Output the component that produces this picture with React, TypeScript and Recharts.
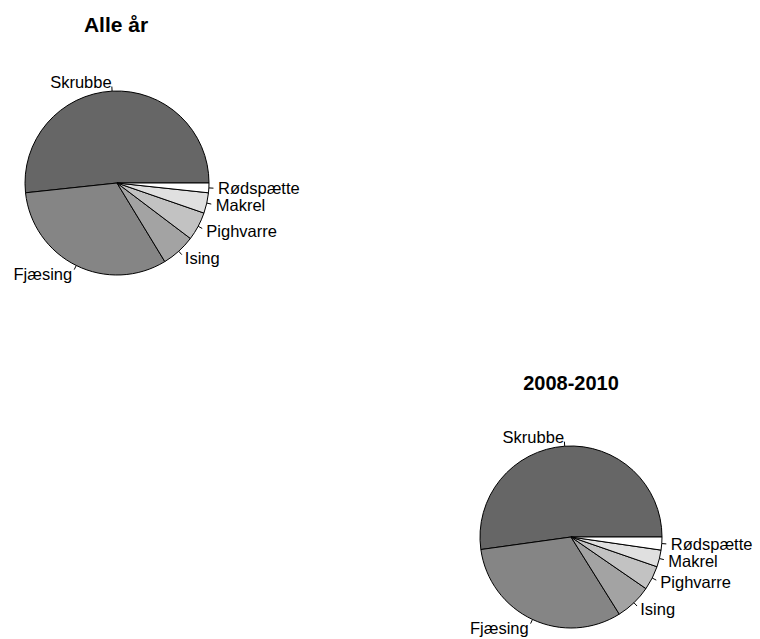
import { Cell, Pie, PieChart } from "recharts";

const species = ["Skrubbe", "Fjæsing", "Ising", "Pighvarre", "Makrel", "Rødspætte"];
const allYears = [51.7, 32.0, 6.0, 5.0, 3.6, 1.7];
const years2008to2010 = [52.2, 31.7, 6.5, 4.3, 3.0, 2.3];
const shades = ["#666666", "#858585", "#a3a3a3", "#c2c2c2", "#e0e0e0", "#ffffff"];
const titles = ["Alle år", "2008-2010"];

const allData = species.map((name, i) => ({ name, value: allYears[i] }));
const recentData = species.map((name, i) => ({ name, value: years2008to2010[i] }));

const RAD = Math.PI / 180;
const font = "'Liberation Sans', Arial, sans-serif";

// R-style pie labels: short tick from r to 1.05r, text at 1.1r
function renderLabel(props: any) {
  const { cx, cy, midAngle, outerRadius, name } = props;
  const c = Math.cos(midAngle * RAD);
  const s = Math.sin(midAngle * RAD);
  const x1 = cx + outerRadius * c;
  const y1 = cy - outerRadius * s;
  const x2 = cx + outerRadius * 1.05 * c;
  const y2 = cy - outerRadius * 1.05 * s;
  const tx = cx + outerRadius * 1.1 * c;
  const ty = cy - outerRadius * 1.1 * s;
  return (
    <g key={name}>
      <line x1={x1} y1={y1} x2={x2} y2={y2} stroke="#000" strokeWidth={1} />
      <text
        x={tx}
        y={ty}
        textAnchor={c > 0 ? "start" : "end"}
        dominantBaseline="central"
        fontFamily={font}
        fontSize={16.5}
        fill="#000"
      >
        {name}
      </text>
    </g>
  );
}

export default function App() {
  return (
    <div style={{ position: "absolute", left: 0, top: 0, width: 760, height: 639, background: "#fff" }}>
      <PieChart width={760} height={639} margin={{ top: 0, right: 0, bottom: 0, left: 0 }}>
        <Pie
          data={allData}
          dataKey="value"
          nameKey="name"
          cx={117}
          cy={183}
          outerRadius={92}
          startAngle={0}
          endAngle={360}
          label={renderLabel}
          labelLine={false}
          isAnimationActive={false}
        >
          {allData.map((d, i) => (
            <Cell key={d.name} fill={shades[i]} stroke="#000" strokeWidth={1} />
          ))}
        </Pie>
        <Pie
          data={recentData}
          dataKey="value"
          nameKey="name"
          cx={571}
          cy={537}
          outerRadius={91}
          startAngle={0}
          endAngle={360}
          label={renderLabel}
          labelLine={false}
          isAnimationActive={false}
        >
          {recentData.map((d, i) => (
            <Cell key={d.name} fill={shades[i]} stroke="#000" strokeWidth={1} />
          ))}
        </Pie>
      </PieChart>
      <svg
        width={760}
        height={639}
        style={{ position: "absolute", left: 0, top: 0, pointerEvents: "none" }}
      >
        <text x={116} y={32} textAnchor="middle" fontFamily={font} fontWeight="bold" fontSize={21}>
          {titles[0]}
        </text>
        <text x={571} y={390} textAnchor="middle" fontFamily={font} fontWeight="bold" fontSize={20}>
          {titles[1]}
        </text>
      </svg>
    </div>
  );
}
